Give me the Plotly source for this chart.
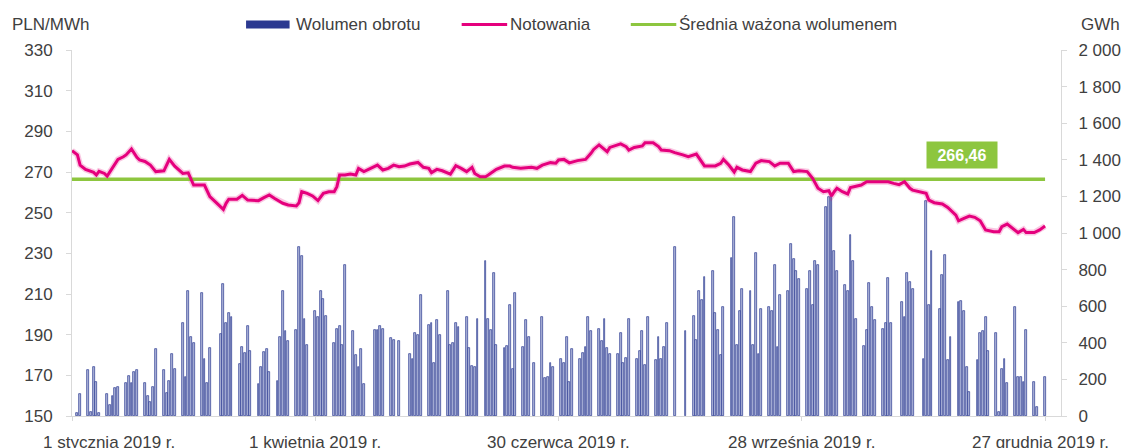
import plotly.graph_objects as go
import pandas as pd

# ---------------- data ----------------
bar_dates = [
    "2019-01-03","2019-01-04","2019-01-07","2019-01-08","2019-01-09","2019-01-10","2019-01-11",
    "2019-01-14","2019-01-15","2019-01-16","2019-01-17","2019-01-18",
    "2019-01-21","2019-01-22","2019-01-23","2019-01-24","2019-01-25",
    "2019-01-28","2019-01-29","2019-01-30","2019-01-31","2019-02-01",
    "2019-02-04","2019-02-05","2019-02-06","2019-02-07","2019-02-08",
    "2019-02-11","2019-02-12","2019-02-13","2019-02-14","2019-02-15",
    "2019-02-18","2019-02-19","2019-02-20","2019-02-21",
    "2019-02-25","2019-02-26","2019-02-27","2019-02-28","2019-03-01",
    "2019-03-04","2019-03-05","2019-03-06","2019-03-07","2019-03-08",
    "2019-03-11","2019-03-12","2019-03-13","2019-03-14","2019-03-15",
    "2019-03-18","2019-03-19","2019-03-20","2019-03-21","2019-03-22",
    "2019-03-25","2019-03-26","2019-03-27","2019-03-28","2019-03-29",
    "2019-04-01","2019-04-02","2019-04-03","2019-04-04","2019-04-05",
    "2019-04-08","2019-04-09","2019-04-10","2019-04-11","2019-04-12",
    "2019-04-15","2019-04-16","2019-04-17","2019-04-18","2019-04-19",
    "2019-04-23","2019-04-24","2019-04-25","2019-04-26",
    "2019-04-29","2019-04-30","2019-05-02",
    "2019-05-06","2019-05-07","2019-05-08","2019-05-09","2019-05-10",
    "2019-05-13","2019-05-14","2019-05-15","2019-05-16","2019-05-17",
    "2019-05-20","2019-05-21","2019-05-22","2019-05-23","2019-05-24",
    "2019-05-27","2019-05-28","2019-05-29","2019-05-30","2019-05-31",
    "2019-06-03","2019-06-04","2019-06-05","2019-06-06","2019-06-07",
    "2019-06-10","2019-06-11","2019-06-12","2019-06-13","2019-06-14",
    "2019-06-17","2019-06-18","2019-06-19","2019-06-21",
    "2019-06-24","2019-06-25","2019-06-26","2019-06-27","2019-06-28",
    "2019-07-01","2019-07-02","2019-07-03","2019-07-04","2019-07-05",
    "2019-07-08","2019-07-09","2019-07-10","2019-07-11","2019-07-12",
    "2019-07-15","2019-07-16","2019-07-17","2019-07-18","2019-07-19",
    "2019-07-22","2019-07-23","2019-07-24","2019-07-25","2019-07-26",
    "2019-07-29","2019-07-30","2019-07-31","2019-08-01","2019-08-02",
    "2019-08-05","2019-08-06","2019-08-07","2019-08-08","2019-08-09",
    "2019-08-12","2019-08-16",
    "2019-08-19","2019-08-20","2019-08-21","2019-08-22","2019-08-23",
    "2019-08-26","2019-08-27","2019-08-28","2019-08-29","2019-08-30",
    "2019-09-02","2019-09-03","2019-09-04","2019-09-05","2019-09-06",
    "2019-09-09","2019-09-10","2019-09-11","2019-09-12","2019-09-13",
    "2019-09-16","2019-09-17","2019-09-18","2019-09-19","2019-09-20",
    "2019-09-23","2019-09-24","2019-09-25","2019-09-26","2019-09-27",
    "2019-09-30","2019-10-01","2019-10-02","2019-10-03","2019-10-04",
    "2019-10-07","2019-10-08","2019-10-09","2019-10-10","2019-10-11",
    "2019-10-14","2019-10-15","2019-10-16","2019-10-17","2019-10-18",
    "2019-10-21","2019-10-22","2019-10-23","2019-10-24","2019-10-25",
    "2019-10-28","2019-10-29","2019-10-30","2019-10-31",
    "2019-11-04","2019-11-05","2019-11-06","2019-11-07","2019-11-08",
    "2019-11-12","2019-11-13","2019-11-14","2019-11-15",
    "2019-11-18","2019-11-19","2019-11-20","2019-11-21","2019-11-22",
    "2019-11-25","2019-11-26","2019-11-27","2019-11-28","2019-11-29",
    "2019-12-02","2019-12-03","2019-12-04","2019-12-05","2019-12-06",
    "2019-12-09","2019-12-10","2019-12-11","2019-12-12","2019-12-13",
    "2019-12-16","2019-12-17","2019-12-18","2019-12-19","2019-12-20",
    "2019-12-23","2019-12-24","2019-12-27",
]
volume_gwh = [
    15, 120, 251, 24, 270, 188, 18,
    120, 60, 111, 151, 160,
    178, 220, 178, 240, 251,
    178, 111, 78, 160, 364,
    251, 124, 193, 339, 255,
    506, 211, 681, 433, 400,
    670, 310, 178, 373,
    448, 719, 506, 561, 539,
    284, 375, 346, 492, 353,
    175, 270, 351, 364, 242,
    193, 433, 681, 463, 408,
    470, 925, 874, 528, 386,
    572, 539, 681, 641, 546,
    400, 473, 492, 386, 827,
    463, 331, 266, 364, 175,
    470, 470, 492, 473,
    426, 415, 408,
    339, 310, 452, 441, 663,
    495, 510, 288, 524, 441,
    681, 386, 397, 506, 488,
    539, 371, 273, 270, 532,
    849, 532, 470, 779, 386,
    371, 382, 608, 255, 670,
    379, 524, 433, 288,
    539, 208, 215, 288, 266,
    310, 288, 433, 188, 364,
    310, 346, 379, 539, 463,
    473, 408, 532, 371, 339,
    339, 452, 288, 317, 532,
    310, 353, 463, 277, 539,
    306, 430, 310, 375, 510,
    925, 463,
    546, 415, 681, 634, 761,
    790, 561, 470, 331, 594,
    865, 1085, 386, 572, 696,
    681, 386, 889, 339, 583,
    594, 572, 823, 379, 663,
    681, 940, 856, 790, 750,
    692, 790, 605, 849, 823,
    1144, 1195, 1200, 899, 790,
    717, 681, 987, 849, 528,
    382, 470, 725, 594, 524,
    473, 510, 754, 510,
    623, 543, 779, 732, 696,
    310, 1173, 608, 899,
    586, 768, 881, 306, 433,
    623, 626, 572, 270, 131,
    306, 452, 463, 539, 353,
    452, 24, 255, 310, 178,
    594, 215, 215, 188, 470,
    188, 51, 211,
]

price_dates = [
    "2019-01-01","2019-01-03","2019-01-04","2019-01-06","2019-01-09","2019-01-10","2019-01-11",
    "2019-01-13","2019-01-14","2019-01-16","2019-01-18","2019-01-20","2019-01-21","2019-01-23",
    "2019-01-25","2019-01-26","2019-01-28","2019-01-30","2019-02-01","2019-02-04","2019-02-06",
    "2019-02-08","2019-02-10","2019-02-11","2019-02-13","2019-02-14","2019-02-15","2019-02-17",
    "2019-02-19","2019-02-21","2019-02-23","2019-02-24","2019-02-26","2019-02-27","2019-02-28",
    "2019-03-03","2019-03-05","2019-03-07","2019-03-11","2019-03-13","2019-03-15","2019-03-17",
    "2019-03-20","2019-03-22","2019-03-25","2019-03-26","2019-03-27","2019-03-29","2019-03-31",
    "2019-04-02","2019-04-04","2019-04-06","2019-04-08","2019-04-09","2019-04-10","2019-04-12",
    "2019-04-14","2019-04-16","2019-04-17","2019-04-19","2019-04-22","2019-04-24","2019-04-26",
    "2019-04-28","2019-04-30","2019-05-02","2019-05-04","2019-05-06","2019-05-09","2019-05-11",
    "2019-05-13","2019-05-14","2019-05-16","2019-05-18","2019-05-21","2019-05-23","2019-05-25",
    "2019-05-27","2019-05-29","2019-05-30","2019-06-01","2019-06-03","2019-06-04","2019-06-06",
    "2019-06-07","2019-06-10","2019-06-12","2019-06-13","2019-06-16","2019-06-20","2019-06-22",
    "2019-06-24","2019-06-27","2019-06-29","2019-06-30","2019-07-02","2019-07-04","2019-07-07",
    "2019-07-10","2019-07-12","2019-07-13","2019-07-15","2019-07-17","2019-07-18","2019-07-19",
    "2019-07-21","2019-07-23","2019-07-25","2019-07-26","2019-07-28","2019-07-31","2019-08-01",
    "2019-08-04","2019-08-06","2019-08-07","2019-08-10","2019-08-12","2019-08-15","2019-08-17",
    "2019-08-20","2019-08-21","2019-08-23","2019-08-27","2019-08-29","2019-08-30","2019-09-01",
    "2019-09-03","2019-09-04","2019-09-06","2019-09-09","2019-09-11","2019-09-13","2019-09-16",
    "2019-09-18","2019-09-20","2019-09-23","2019-09-25","2019-09-27","2019-09-30","2019-10-02",
    "2019-10-04","2019-10-06","2019-10-08","2019-10-09","2019-10-10","2019-10-11","2019-10-13",
    "2019-10-15","2019-10-16","2019-10-19","2019-10-20","2019-10-22","2019-10-26","2019-10-30",
    "2019-11-01","2019-11-03","2019-11-05","2019-11-07","2019-11-08","2019-11-11","2019-11-13",
    "2019-11-14","2019-11-16","2019-11-19","2019-11-21","2019-11-24","2019-11-25","2019-11-27",
    "2019-11-29","2019-12-01","2019-12-03","2019-12-05","2019-12-08","2019-12-10","2019-12-11",
    "2019-12-13","2019-12-15","2019-12-17","2019-12-19","2019-12-20","2019-12-23","2019-12-25",
    "2019-12-27",
]
price_pln = [
    280.5, 278.4, 273.4, 271.3, 269.8, 268.5, 270.3,
    269.3, 268.0, 272.3, 276.2, 277.5, 278.4, 281.3,
    277.2, 275.9, 275.2, 273.4, 270.2, 270.6, 276.2,
    272.9, 270.6, 269.3, 269.6, 266.1, 263.6, 263.6,
    263.6, 257.9, 255.4, 253.8, 251.6, 254.6, 256.6,
    256.6, 258.5, 256.2, 255.9, 257.4, 258.7, 257.0,
    254.6, 253.8, 253.3, 254.9, 260.3, 259.5, 258.2,
    255.9, 259.5, 260.3, 260.3, 262.8, 268.5, 268.5,
    269.0, 268.5, 271.8, 270.2, 272.3, 273.4, 271.0,
    271.8, 273.4, 272.6, 272.9, 273.9, 274.7, 272.3,
    271.8, 269.7, 271.3, 270.6, 269.0, 273.1, 271.8,
    270.2, 272.3, 269.3, 267.7, 267.7, 268.5, 270.2,
    271.3, 272.9, 272.9, 272.3, 271.8, 272.3, 271.8,
    273.4, 274.6, 274.3, 275.9, 276.2, 274.5, 275.6,
    276.2, 279.2, 281.1, 283.3, 281.1, 280.0, 282.1,
    282.8, 283.8, 282.5, 280.8, 282.1, 282.8, 284.4,
    284.4, 282.5, 280.8, 280.5, 279.5, 278.4, 277.5,
    278.8, 276.7, 273.0, 273.0, 274.3, 276.2, 273.4,
    270.0, 272.3, 271.0, 270.2, 274.3, 275.6, 275.1,
    273.0, 274.3, 274.3, 270.2, 270.6, 270.2, 266.9,
    262.0, 260.3, 260.8, 258.2, 260.3, 262.0, 260.3,
    259.2, 262.4, 263.1, 263.6, 265.2, 265.2, 265.2,
    264.4, 263.8, 265.2, 262.0, 261.1, 260.3, 259.5,
    256.2, 254.9, 254.3, 252.6, 248.8, 246.0, 247.2,
    248.3, 247.7, 246.0, 241.5, 240.6, 240.6, 243.1,
    244.4, 242.3, 240.2, 241.8, 240.2, 240.2, 241.5,
    243.4,
]

avg_value = 266.46
avg_label = "266,46"
avg_dates = ["2019-01-01", "2019-12-27"]

x_tick_dates = ["2019-01-01", "2019-04-01", "2019-06-30", "2019-09-28", "2019-12-27"]
x_tick_text = ["1 stycznia 2019 r.", "1 kwietnia 2019 r.", "30 czerwca 2019 r.",
               "28 września 2019 r.", "27 grudnia 2019 r."]
left_ticks = [150, 170, 190, 210, 230, 250, 270, 290, 310, 330]
right_ticks = [0, 200, 400, 600, 800, 1000, 1200, 1400, 1600, 1800, 2000]
right_tick_text = ["0", "200", "400", "600", "800", "1 000", "1 200", "1 400", "1 600", "1 800", "2 000"]

series_names = ["Wolumen obrotu", "Notowania", "Średnia ważona wolumenem"]

# ---------------- style ----------------
FONT = "Liberation Sans, Arial, sans-serif"
FS = 17
TXT = "#404040"
NAVY = "#2b3990"
BAR_FILL = "#aeb6da"
MAGENTA = "#e5007d"
GREEN = "#8dc63f"
AXIS = "#d9d9d9"

# the page body adds an 8 px offset, so the figure is built 8 px smaller
OFF = 8
W, H = 1133 - OFF, 448 - OFF
# plot area in reference (window) pixels: x 72..1072, y 50..416
PX0, PX1, PY0, PY1 = 72, 1072, 50, 416
L, T = PX0 - OFF, PY0 - OFF
R = W - (PX1 - OFF)
B = H - (PY1 - OFF)
PW, PH = PX1 - PX0, PY1 - PY0


def px(xpix):
    return (xpix - PX0) / PW


def py(ypix):
    return (PY1 - ypix) / PH


fig = go.Figure()

fig.add_trace(go.Bar(
    x=pd.to_datetime(bar_dates), y=volume_gwh, name=series_names[0],
    marker=dict(color=BAR_FILL, line=dict(width=0.7, color=NAVY)),
    width=0.68 * 86400000, yaxis="y", showlegend=False,
))
# soft halo under the price line
fig.add_trace(go.Scatter(
    x=pd.to_datetime(price_dates), y=price_pln, mode="lines",
    line=dict(color="rgba(229,0,125,0.22)", width=6), yaxis="y2",
    showlegend=False, hoverinfo="skip",
))
fig.add_trace(go.Scatter(
    x=pd.to_datetime(avg_dates), y=[avg_value, avg_value], mode="lines",
    name=series_names[2], line=dict(color=GREEN, width=3.5), yaxis="y2", showlegend=False,
))
fig.add_trace(go.Scatter(
    x=pd.to_datetime(price_dates), y=price_pln, mode="lines", name=series_names[1],
    line=dict(color=MAGENTA, width=3), yaxis="y2", showlegend=False,
))

x_start = pd.Timestamp("2019-01-01")
x_end = x_start + pd.Timedelta(days=PW / 2.733)

fig.update_layout(
    width=W, height=H,
    margin=dict(l=L, r=R, t=T, b=B, pad=0),
    paper_bgcolor="white", plot_bgcolor="white",
    font=dict(family=FONT, size=FS, color=TXT),
    bargap=0,
    xaxis=dict(
        type="date", range=[x_start, x_end],
        tickvals=pd.to_datetime(x_tick_dates), showticklabels=False,
        ticks="outside", ticklen=4, tickcolor=AXIS,
        showline=True, linecolor=AXIS, linewidth=1, showgrid=False, zeroline=False,
    ),
    yaxis=dict(
        side="right", range=[0, 2000], tickvals=right_ticks, ticktext=right_tick_text,
        ticks="outside", ticklen=5, tickcolor=AXIS, ticklabelstandoff=8,
        showline=True, linecolor=AXIS, linewidth=1, showgrid=False, zeroline=False,
        tickfont=dict(family=FONT, size=FS, color=TXT), anchor="x",
    ),
    yaxis2=dict(
        side="left", overlaying="y", range=[150, 330], tickvals=left_ticks,
        ticks="outside", ticklen=5, tickcolor=AXIS, ticklabelstandoff=10,
        showline=True, linecolor=AXIS, linewidth=1, showgrid=False, zeroline=False,
        tickfont=dict(family=FONT, size=FS, color=TXT), anchor="x",
    ),
)

ann = []
# x tick labels
for i, (d, t) in enumerate(zip(x_tick_dates, x_tick_text)):
    ann.append(dict(
        x=pd.Timestamp(d), xref="x", y=py(431), yref="paper", text=t, showarrow=False,
        xanchor="center", yanchor="top", xshift=37 if i == 0 else (-5 if i == len(x_tick_dates) - 1 else 0),
        font=dict(family=FONT, size=FS, color=TXT),
    ))
# axis titles
ann.append(dict(x=px(9), y=py(24.5), xref="paper", yref="paper", text="PLN/MWh",
                showarrow=False, xanchor="left", yanchor="middle",
                font=dict(family=FONT, size=FS, color=TXT)))
ann.append(dict(x=px(1090), y=py(24.5), xref="paper", yref="paper", text="GWh",
                showarrow=False, xanchor="left", yanchor="middle",
                font=dict(family=FONT, size=FS, color=TXT)))
# average label box
ann.append(dict(x=px(972), y=py(155), xref="paper", yref="paper",
                text="<b>" + avg_label + "</b>", showarrow=False,
                xanchor="center", yanchor="middle", width=66, height=22,
                bgcolor=GREEN, borderpad=2,
                font=dict(family=FONT, size=16, color="white")))

# manual legend
shapes = []
shapes.append(dict(type="rect", xref="paper", yref="paper",
                   x0=px(248), x1=px(292), y0=py(28.5), y1=py(20.5),
                   fillcolor=NAVY, line=dict(width=0)))
shapes.append(dict(type="line", xref="paper", yref="paper",
                   x0=px(466), x1=px(512), y0=py(24.5), y1=py(24.5),
                   line=dict(color=MAGENTA, width=3)))
shapes.append(dict(type="line", xref="paper", yref="paper",
                   x0=px(637), x1=px(683), y0=py(24.5), y1=py(24.5),
                   line=dict(color=GREEN, width=3)))
for xl, name in zip([296, 513, 684], series_names):
    ann.append(dict(x=px(xl), y=py(24.5), xref="paper", yref="paper", text=name,
                    showarrow=False, xanchor="left", yanchor="middle",
                    font=dict(family=FONT, size=FS, color=TXT)))

fig.update_layout(annotations=ann, shapes=shapes)

fig.write_html("out.html")
